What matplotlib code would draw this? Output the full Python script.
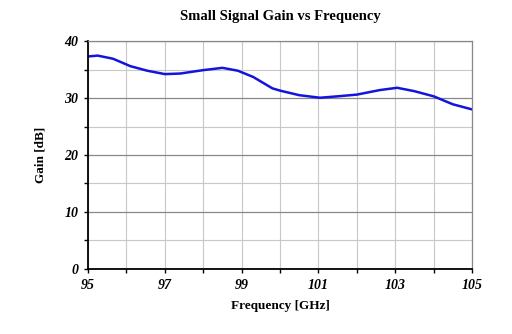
import matplotlib
matplotlib.use("Agg")
import matplotlib.pyplot as plt

# values
freq = [95.0, 95.25, 95.65, 96.1, 96.54, 97.0, 97.4, 98.0, 98.5, 98.9,
        99.3, 99.8, 100.0, 100.5, 101.04, 101.5, 102.0, 102.6, 103.05,
        103.5, 104.0, 104.5, 105.0]
gain = [37.3, 37.45, 36.9, 35.6, 34.8, 34.2, 34.3, 34.9, 35.3, 34.8,
        33.7, 31.7, 31.3, 30.5, 30.05, 30.3, 30.6, 31.4, 31.8,
        31.2, 30.3, 28.9, 28.0]
x_ticks = [95, 97, 99, 101, 103, 105]
y_ticks = [0, 10, 20, 30, 40]

serif = ["Liberation Serif", "DejaVu Serif"]

fig = plt.figure(figsize=(5.12, 3.34), dpi=100)
ax = fig.add_axes([0.172, 0.195, 0.75, 0.682])

ax.plot(freq, gain, color="#1414dc", lw=1.8)

ax.set_xlim(95, 105)
ax.set_ylim(0, 40)
ax.set_xticks(x_ticks)
ax.set_xticks(range(95, 106), minor=True)
ax.set_yticks(y_ticks)
ax.set_yticks(range(0, 41, 5), minor=True)
ax.grid(True, which="both", color="#c8c8c8", lw=0.8)
ax.grid(True, which="major", axis="y", color="#888888", lw=0.9)

for lbl in ax.get_xticklabels() + ax.get_yticklabels():
    lbl.set_family(serif)
    lbl.set_fontweight("bold")
    lbl.set_fontstyle("italic")
    lbl.set_fontsize(10)

ax.tick_params(which="both", direction="out", length=3, width=1)
ax.tick_params(axis="x", pad=4)
ax.tick_params(axis="y", pad=4)
for s in ["left", "bottom"]:
    ax.spines[s].set_color("black")
    ax.spines[s].set_linewidth(1.3)
for s in ["top", "right"]:
    ax.spines[s].set_color("#888888")
    ax.spines[s].set_linewidth(0.9)

ax.set_title("Small Signal Gain vs Frequency", family=serif, fontweight="bold",
             fontsize=10.5, pad=15)
ax.set_xlabel("Frequency [GHz]", family=serif, fontweight="bold", fontsize=9.5, labelpad=6)
ax.set_ylabel("Gain [dB]", family=serif, fontweight="bold", fontsize=9.5, labelpad=13)

fig.savefig("out.png", dpi=100)
